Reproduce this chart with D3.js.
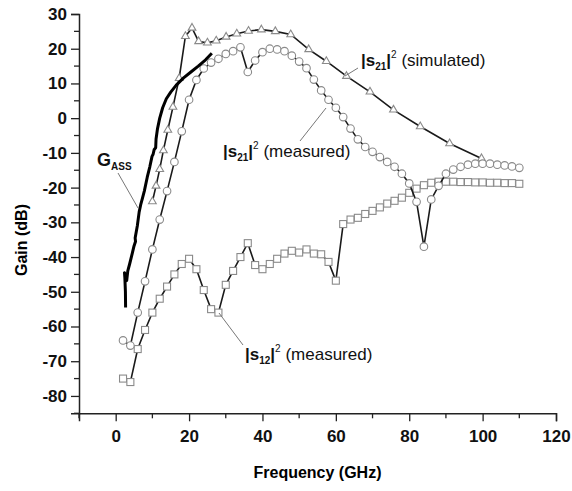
<!DOCTYPE html>
<html lang="en">
<head>
    <meta charset="UTF-8">
    <title>Gain vs Frequency</title>
    <script src="https://d3js.org/d3.v7.min.js"></script>
    <style>
        body { margin: 0; background: #fff; }
        text { font-family: Arial, "Liberation Sans", sans-serif; }
    </style>
</head>
<body>
    <div id="chart"></div>
    <script>
        // |s12|^2 measured (squares), every 2 GHz
        const s12Freq = d3.range(2, 111, 2);
        const s12Gain = [-75, -76, -66.5, -61, -56, -52, -48.5, -45, -42, -40.5,
            -43.5, -49.5, -55, -56, -48, -44, -40, -36, -42.3, -43.5,
            -42, -40.5, -39, -38.2, -38.7, -37.8, -39, -39.2, -41.4, -46.8,
            -30.5, -29.2, -28.7, -27.6, -26.7, -25.7, -24.6, -23.8, -22.9, -21.5,
            -20.3, -19.3, -18.6, -18.3, -18.3, -18.3, -18.4, -18.4, -18.5, -18.5,
            -18.6, -18.6, -18.7, -18.7, -18.9];

        // |s21|^2 measured (circles)
        const s21MeasFreq = d3.range(2, 111, 2);
        const s21MeasGain = [-64, -65.5, -56, -47, -37.8, -29.2, -21, -12.6, -3.8, 5.3,
            11, 14.3, 16, 17.1, 18.5, 19.3, 20.4, 13.3, 16.6, 19,
            20, 19.8, 19.3, 18, 16.3, 14.4, 11.1, 8, 5.3, 3,
            0.3, -3, -6.1, -8.3, -9.7, -11.2, -12.6, -14, -16, -18.8,
            -24.1, -37, -23.4, -19.5, -16, -14.8, -14, -13.4, -13.1, -13.1,
            -13.1, -13.4, -13.6, -13.9, -14.3];

        // |s21|^2 simulated (triangles)
        const s21SimFreq = [10, 11, 12, 13, 14.2, 15.6, 17.3, 19, 20.8, 22.6,
            25, 27.4, 30.1, 33, 36.2, 39.7, 43.5, 47.7, 52.6, 57.4,
            62.9, 69.3, 75.7, 83, 91, 99.7];
        const s21SimGain = [-24, -19.5, -14.7, -9.3, -3.4, 3.2, 11.5, 23.6, 26, 22.1,
            21.7, 22.3, 23.4, 24.3, 25.1, 25.5, 25, 24.1, 19.8, 16.4,
            12.1, 7.6, 2.4, -2.4, -7.3, -11.6];

        // G_ASS (thick line, no markers)
        const gassFreq = [2.7, 2.65, 2.5, 2.4, 3.0, 3.3, 3.8, 4.5, 5.0, 5.4,
            5.3, 5.9, 6.4, 6.8, 7.3, 7.8, 8.6, 9.3, 9.9, 10.2,
            10.5, 10.9, 11.0, 11.4, 12.0, 12.8, 13.8, 15, 16.5, 18.5,
            20.5, 22.5, 24.5, 26.2];
        const gassGain = [-54.5, -50, -46, -44.5, -46.8, -44, -42, -39, -36.8, -35.5,
            -34.5, -31, -27, -25, -23, -21, -17, -14, -11, -10.4,
            -9, -8.5, -6, -3, 0, 3, 5.6, 7.5, 9.5, 11.6,
            13.3, 15, 16.8, 18.7];

        // axis ticks
        const xTicks = [0, 20, 40, 60, 80, 100, 120];
        const xMinor = [-10, 10, 30, 50, 70, 90, 110];
        const yTicks = d3.range(-80, 31, 10);
        const yMinor = d3.range(-85, 31, 10);

        const width = 572, height = 491;
        const svg = d3.select("#chart").append("svg")
            .attr("width", width)
            .attr("height", height);

        const x = d3.scaleLinear().domain([-10, 120]).range([79, 556]);
        const y = d3.scaleLinear().domain([-85, 30]).range([413.3, 14]);

        const zip = (fs, gs) => fs.map((f, i) => ({ f: f, g: gs[i] }));
        const line = d3.line().x(d => x(d.f)).y(d => y(d.g));

        // axes (plain hyphen for negatives, like the original)
        const fmt = d => String(d);
        const xAxis = svg.append("g")
            .attr("transform", `translate(0,${y(-85)})`)
            .call(d3.axisBottom(x).tickValues(xTicks).tickSize(8).tickPadding(9).tickFormat(fmt));
        xAxis.append("g").selectAll("line").data(xMinor).enter().append("line")
            .attr("x1", d => x(d)).attr("x2", d => x(d))
            .attr("y1", 0).attr("y2", 5)
            .attr("stroke", "#222").attr("stroke-width", 1.3);

        const yAxis = svg.append("g")
            .attr("transform", `translate(${x(-10)},0)`)
            .call(d3.axisLeft(y).tickValues(yTicks).tickSize(8).tickPadding(4).tickFormat(fmt));
        yAxis.append("g").selectAll("line").data(yMinor).enter().append("line")
            .attr("y1", d => y(d)).attr("y2", d => y(d))
            .attr("x1", 0).attr("x2", -5)
            .attr("stroke", "#222").attr("stroke-width", 1.3);

        [xAxis, yAxis].forEach(a => {
            a.select(".domain").attr("stroke", "#222").attr("stroke-width", 1.5);
            a.selectAll(".tick line").attr("stroke", "#222").attr("stroke-width", 1.3);
            a.selectAll(".tick text")
                .attr("fill", "#111")
                .style("font-size", "17px")
                .style("font-weight", "bold");
        });

        // axis titles
        svg.append("text")
            .attr("x", x(55)).attr("y", 478)
            .attr("text-anchor", "middle")
            .style("font-size", "16px").style("font-weight", "bold")
            .text("Frequency (GHz)");
        svg.append("text")
            .attr("transform", "translate(27,240) rotate(-90)")
            .attr("text-anchor", "middle")
            .style("font-size", "16px").style("font-weight", "bold")
            .text("Gain (dB)");

        const markerStroke = "#8a8a8a";

        // s12 measured
        const s12 = zip(s12Freq, s12Gain);
        svg.append("path").datum(s12)
            .attr("d", line).attr("fill", "none")
            .attr("stroke", "#1a1a1a").attr("stroke-width", 1.6);
        svg.append("g").selectAll("rect").data(s12).enter().append("rect")
            .attr("x", d => x(d.f) - 3.5).attr("y", d => y(d.g) - 3.5)
            .attr("width", 7).attr("height", 7)
            .attr("fill", "white").attr("stroke", markerStroke).attr("stroke-width", 1.1);

        // s21 simulated
        const s21Sim = zip(s21SimFreq, s21SimGain);
        svg.append("path").datum(s21Sim)
            .attr("d", line).attr("fill", "none")
            .attr("stroke", "#1a1a1a").attr("stroke-width", 1.6);
        svg.append("g").selectAll("path").data(s21Sim).enter().append("path")
            .attr("d", d3.symbol(d3.symbolTriangle, 26))
            .attr("transform", d => `translate(${x(d.f)},${y(d.g)})`)
            .attr("fill", "white").attr("stroke", markerStroke).attr("stroke-width", 1.1);

        // s21 measured
        const s21Meas = zip(s21MeasFreq, s21MeasGain);
        svg.append("path").datum(s21Meas)
            .attr("d", line).attr("fill", "none")
            .attr("stroke", "#1a1a1a").attr("stroke-width", 1.6);
        svg.append("g").selectAll("circle").data(s21Meas).enter().append("circle")
            .attr("cx", d => x(d.f)).attr("cy", d => y(d.g)).attr("r", 3.8)
            .attr("fill", "white").attr("stroke", markerStroke).attr("stroke-width", 1.1);

        // G_ASS
        svg.append("path").datum(zip(gassFreq, gassGain))
            .attr("d", line).attr("fill", "none")
            .attr("stroke", "#000").attr("stroke-width", 3)
            .attr("stroke-linejoin", "round");

        // annotations
        const leader = (x1, y1, x2, y2) => svg.append("line")
            .attr("x1", x1).attr("y1", y1).attr("x2", x2).attr("y2", y2)
            .attr("stroke", "#777").attr("stroke-width", 1);
        leader(118, 173, 138, 208);
        leader(345, 76, 358, 68);
        leader(300, 141, 326, 108);
        leader(219, 313, 243, 345);

        const sLabel = (px, py, sub, rest) => {
            const t = svg.append("text").attr("x", px).attr("y", py)
                .style("font-size", "17px").attr("fill", "#111");
            t.append("tspan").style("font-weight", "bold").text("|s");
            t.append("tspan").attr("dy", 4).style("font-size", "10px").style("font-weight", "bold").text(sub);
            t.append("tspan").attr("dy", -4).style("font-weight", "bold").text("|");
            t.append("tspan").attr("dy", -8).style("font-size", "10px").text("2");
            t.append("tspan").attr("dy", 8).text(" " + rest);
        };
        sLabel(361, 66, "21", "(simulated)");
        sLabel(223, 157, "21", "(measured)");
        sLabel(245, 360, "12", "(measured)");

        const g = svg.append("text").attr("x", 97).attr("y", 166)
            .style("font-size", "18px").style("font-weight", "bold").attr("fill", "#111");
        g.append("tspan").text("G");
        g.append("tspan").attr("dy", 4).style("font-size", "10px").text("ASS");
    </script>
</body>
</html>
